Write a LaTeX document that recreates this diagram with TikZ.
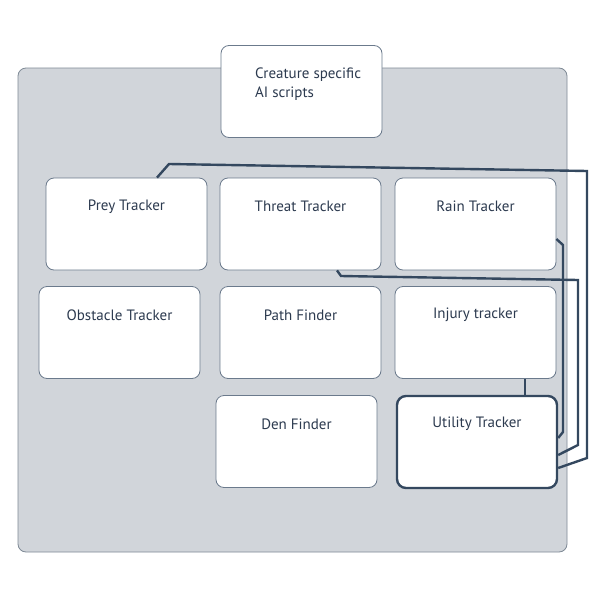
\documentclass[tikz,border=0pt]{standalone}
\usepackage{fontspec}
\setmainfont{PT Sans}
\usetikzlibrary{calc}
\definecolor{panel}{HTML}{D1D5DA}
\definecolor{panelborder}{HTML}{7F8A96}
\definecolor{boxborder}{HTML}{6B7A8C}
\definecolor{conncol}{HTML}{34485F}
\definecolor{txt}{HTML}{2C3A4F}
\begin{document}
\begin{tikzpicture}[x=1pt,y=-1pt,
  container/.style={draw=panelborder, fill=panel, line width=0.8pt, rounded corners=8pt, minimum width=549pt, minimum height=484pt, inner sep=0pt},
  modbox/.style={draw=boxborder, fill=white, line width=0.8pt, rounded corners=8pt, minimum width=161pt, minimum height=92pt, inner sep=0pt},
  utilbox/.style={draw=conncol, fill=white, line width=2.4pt, rounded corners=9pt, minimum width=160pt, minimum height=92pt, inner sep=0pt},
  lbl/.style={text=txt, font=\fontsize{15}{19}\selectfont, anchor=center, yshift=-29pt},
  conn/.style={draw=conncol, line width=2.4pt, line join=miter}
]
\fill[white] (0,0) rectangle (600,600);
\useasboundingbox (0,0) rectangle (600,600);

\node[container] (panel) at (292.5,310) {};

\node[modbox, label={[text=txt, font=\fontsize{15}{19}\selectfont, anchor=north west, align=left, xshift=31pt, yshift=-19pt]north west:Creature specific\\AI scripts}] (scripts) at (301.5,91.5) {};

\node[modbox, label={[lbl]north:Prey Tracker}] (prey) at (126.5,224) {};
\node[modbox, label={[lbl]north:Threat Tracker}] (threat) at (300.5,224) {};
\node[modbox, label={[lbl]north:Rain Tracker}] (rain) at (475.5,224) {};

\node[modbox, label={[lbl]north:Obstacle Tracker}] (obstacle) at (119.5,332.5) {};
\node[modbox, label={[lbl]north:Path Finder}] (path) at (300.5,332.5) {};
\node[modbox, label={[lbl]north:Injury tracker}] (injury) at (475.5,332.5) {};

\node[modbox, label={[lbl]north:Den Finder}] (den) at (296.5,441.5) {};
\node[utilbox, label={[lbl]north:Utility Tracker}] (util) at (477,442) {};

\draw[conn] ([xshift=30.5pt]prey.north) -- (169,164) -- (587,171) -- (587,458) -- ([yshift=-26pt]util.east);
\draw[conn] ([xshift=36.5pt]threat.south) -- (341,276) -- (578,280) -- (578,445) -- ([yshift=-13pt]util.east);
\draw[conn] ([yshift=-15pt]rain.east) -- (563,245) -- (563,432) -- ([yshift=4pt]util.east);
\draw[conn] ([xshift=49.5pt]injury.south) -- ([xshift=49.5pt]injury.south |- util.north);
\end{tikzpicture}
\end{document}
